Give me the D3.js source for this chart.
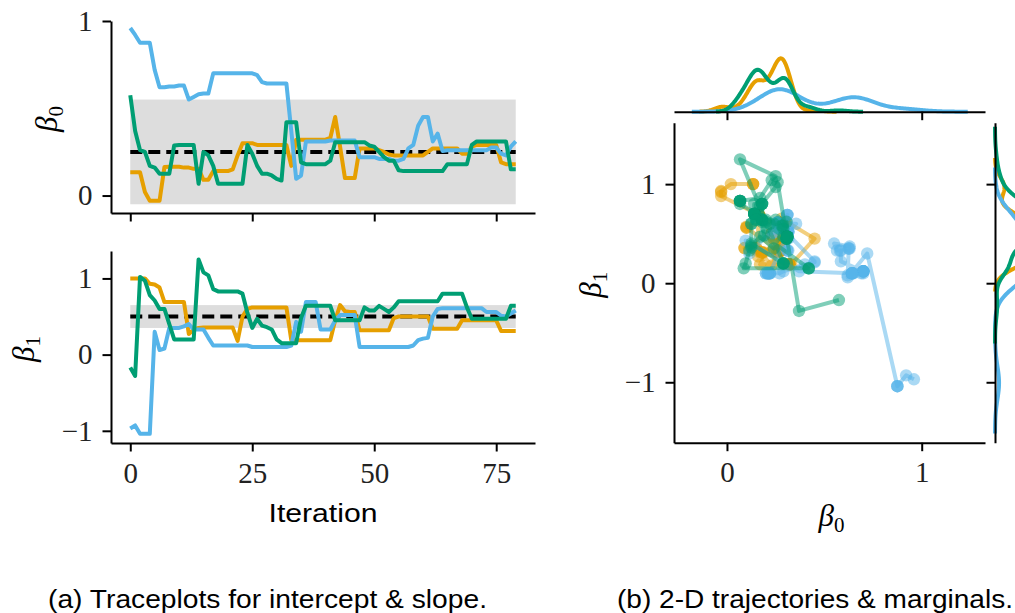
<!DOCTYPE html>
<html>
<head>
<meta charset="utf-8">
<script src="https://cdn.jsdelivr.net/npm/d3@7"></script>
<style>
  html, body { margin: 0; padding: 0; background: #fff; }
  svg { display: block; }
  .tick text { font-family: "Liberation Serif", "DejaVu Serif", serif; font-size: 29px; fill: #222; }
</style>
</head>
<body>
<svg id="fig" width="1015" height="613"></svg>
<script>
// ---- chain samples: intercept (beta0) and slope (beta1), 80 iterations each ----
const chainNames = ["chain 1", "chain 2", "chain 3"];
const chainColors = ["#E69F00", "#56B4E9", "#009E73"];

const beta0Chain1 = [0.134,0.134,0.134,0.02,-0.03,-0.03,-0.03,0.163,0.165,0.165,
  0.165,0.16,0.16,0.153,0.153,0.09,0.09,0.14,0.14,0.14,
  0.14,0.15,0.23,0.30,0.30,0.30,0.29,0.29,0.29,0.29,
  0.29,0.29,0.29,0.17,0.32,0.32,0.32,0.32,0.32,0.32,
  0.32,0.33,0.45,0.28,0.10,0.10,0.10,0.27,0.27,0.27,
  0.27,0.26,0.25,0.235,0.23,0.23,0.23,0.23,0.23,0.23,
  0.23,0.25,0.27,0.27,0.27,0.27,0.27,0.27,0.24,0.24,
  0.28,0.29,0.29,0.29,0.29,0.29,0.19,0.18,0.18,0.18];
const beta0Chain2 = [0.96,0.92,0.875,0.875,0.875,0.72,0.62,0.62,0.625,0.625,
  0.63,0.63,0.55,0.565,0.58,0.585,0.585,0.70,0.70,0.70,
  0.70,0.70,0.70,0.70,0.70,0.70,0.69,0.65,0.642,0.642,
  0.642,0.642,0.642,0.37,0.096,0.115,0.31,0.31,0.31,0.31,
  0.31,0.315,0.315,0.315,0.315,0.315,0.315,0.22,0.22,0.22,
  0.22,0.21,0.21,0.21,0.20,0.20,0.21,0.27,0.29,0.40,
  0.45,0.45,0.31,0.355,0.255,0.26,0.26,0.26,0.26,0.26,
  0.26,0.26,0.26,0.26,0.275,0.275,0.24,0.23,0.28,0.31];
const beta0Chain3 = [0.575,0.37,0.26,0.25,0.17,0.16,0.125,0.125,0.125,0.287,
  0.29,0.29,0.29,0.29,0.067,0.25,0.23,0.17,0.067,0.067,
  0.067,0.067,0.067,0.067,0.29,0.24,0.17,0.125,0.125,0.115,
  0.096,0.086,0.42,0.42,0.42,0.19,0.18,0.18,0.18,0.18,
  0.18,0.20,0.306,0.306,0.306,0.306,0.306,0.306,0.306,0.287,
  0.28,0.25,0.22,0.20,0.20,0.145,0.14,0.14,0.14,0.14,
  0.14,0.14,0.14,0.14,0.14,0.18,0.18,0.18,0.18,0.18,
  0.29,0.31,0.31,0.31,0.31,0.31,0.31,0.31,0.15,0.15];

const beta1Chain1 = [1.0,1.0,1.0,1.0,0.93,0.92,0.88,0.69,0.69,0.69,
  0.69,0.69,0.27,0.33,0.35,0.355,0.355,0.355,0.355,0.355,
  0.355,0.355,0.18,0.50,0.60,0.62,0.62,0.62,0.62,0.62,
  0.62,0.62,0.62,0.19,0.19,0.19,0.19,0.19,0.19,0.19,
  0.19,0.19,0.45,0.65,0.57,0.56,0.56,0.32,0.32,0.32,
  0.32,0.32,0.32,0.32,0.48,0.50,0.50,0.50,0.50,0.50,
  0.50,0.50,0.34,0.34,0.34,0.34,0.34,0.34,0.45,0.45,
  0.45,0.45,0.45,0.45,0.45,0.45,0.31,0.31,0.31,0.31];
const beta1Chain2 = [-0.97,-0.93,-1.04,-1.04,-1.04,0.30,0.06,0.08,0.35,0.35,
  0.35,0.37,0.40,0.33,0.33,0.33,0.22,0.12,0.12,0.12,
  0.12,0.12,0.12,0.12,0.12,0.10,0.10,0.10,0.10,0.10,
  0.10,0.10,0.10,0.12,0.43,0.30,0.69,0.69,0.69,0.33,
  0.33,0.33,0.45,0.52,0.52,0.52,0.52,0.10,0.10,0.10,
  0.10,0.10,0.10,0.10,0.10,0.10,0.10,0.10,0.12,0.19,
  0.21,0.22,0.50,0.60,0.61,0.61,0.61,0.61,0.61,0.61,
  0.61,0.61,0.61,0.56,0.56,0.56,0.51,0.50,0.54,0.58];
const beta1Chain3 = [-0.17,-0.28,1.02,0.97,0.78,0.71,0.60,0.60,0.40,0.20,
  0.20,0.20,0.20,0.20,1.25,1.08,1.04,0.86,0.83,0.83,
  0.83,0.83,0.83,0.80,0.55,0.35,0.47,0.38,0.36,0.33,
  0.20,0.15,0.15,0.15,0.15,0.48,0.64,0.64,0.64,0.64,
  0.64,0.64,0.45,0.45,0.45,0.45,0.45,0.45,0.62,0.58,
  0.58,0.64,0.60,0.56,0.62,0.70,0.70,0.70,0.70,0.70,
  0.70,0.70,0.70,0.70,0.80,0.80,0.80,0.80,0.80,0.62,
  0.47,0.47,0.47,0.47,0.47,0.47,0.47,0.47,0.64,0.64];

// true parameter values and the shaded reference bands
const trueBeta0 = 0.25, bandBeta0 = [-0.05, 0.55];
const trueBeta1 = 0.5,  bandBeta1 = [0.35, 0.65];

// tick values / labels
const iterTicks = [0, 25, 50, 75];
const beta0TraceTicks = [0, 1];
const beta1TraceTicks = [-1, 0, 1];
const jointXTicks = [0, 1];
const jointYTicks = [-1, 0, 1];
const tickLabel = v => (v < 0 ? "\u2212" : "") + Math.abs(v);

const captionA = "(a) Traceplots for intercept & slope.";
const captionB = "(b) 2-D trajectories & marginals.";

const beta0 = [beta0Chain1, beta0Chain2, beta0Chain3];
const beta1 = [beta1Chain1, beta1Chain2, beta1Chain3];
const nIter = beta0Chain1.length;
const iters = d3.range(nIter);

const svg = d3.select("#fig");
const serif = '"Liberation Serif", "DejaVu Serif", serif';
const sans = '"Liberation Sans", "DejaVu Sans", sans-serif';
const SPINE = 2, TICKLEN = 8.5, LW = 4;

function styleAxis(g) {
  g.select(".domain").attr("stroke", "#000").attr("stroke-width", SPINE);
  g.selectAll(".tick line").attr("stroke", "#000").attr("stroke-width", SPINE);
}

// ---------------- (a) trace plots ----------------
const xIter = d3.scaleLinear([-3.95, 82.95], [111, 535]);
const panels = [
  { data: beta0, y: d3.scaleLinear([-0.1, 1.0], [213, 21]), ticks: beta0TraceTicks,
    truth: trueBeta0, band: bandBeta0, sub: "0", showX: false, labelX: 57 },
  { data: beta1, y: d3.scaleLinear([-1.16, 1.36], [443, 251]), ticks: beta1TraceTicks,
    truth: trueBeta1, band: bandBeta1, sub: "1", showX: true, labelX: 34 }
];

panels.forEach(p => {
  const g = svg.append("g");
  const [y0, y1] = p.y.range();
  g.append("rect")
    .attr("x", xIter(0)).attr("width", xIter(nIter - 1) - xIter(0))
    .attr("y", p.y(p.band[1])).attr("height", p.y(p.band[0]) - p.y(p.band[1]))
    .attr("fill", "#dddddd");
  g.append("line")
    .attr("x1", xIter(0)).attr("x2", xIter(nIter - 1))
    .attr("y1", p.y(p.truth)).attr("y2", p.y(p.truth))
    .attr("stroke", "#000").attr("stroke-width", 4).attr("stroke-dasharray", "12,6");
  const line = d3.line().x((d, i) => xIter(i)).y(d => p.y(d));
  p.data.forEach((series, c) => {
    g.append("path").datum(series).attr("d", line)
      .attr("fill", "none").attr("stroke", chainColors[c])
      .attr("stroke-width", LW).attr("stroke-linejoin", "round");
  });
  const ax = g.append("g").attr("transform", `translate(${xIter.range()[0]},0)`)
    .call(d3.axisLeft(p.y).tickValues(p.ticks).tickFormat(tickLabel)
      .tickSize(TICKLEN).tickSizeOuter(0).tickPadding(10));
  styleAxis(ax);
  const bx = g.append("g").attr("transform", `translate(0,${y0})`)
    .call(d3.axisBottom(xIter).tickValues(iterTicks)
      .tickFormat(p.showX ? d3.format("d") : () => "")
      .tickSize(TICKLEN).tickSizeOuter(0).tickPadding(8));
  styleAxis(bx);
  bx.selectAll(".tick text").attr("dy", "0.8em");
  // rotated y label
  const t = g.append("text")
    .attr("transform", `translate(${p.labelX},${(y0 + y1) / 2 + 15}) rotate(-90)`)
    .attr("font-family", serif).attr("font-size", 31);
  t.append("tspan").attr("font-style", "italic").text("\u03B2");
  t.append("tspan").attr("font-size", 21).attr("dy", 6).text(p.sub);
});

svg.append("text").attr("x", xIter(39.5)).attr("y", 522)
  .attr("text-anchor", "middle").attr("font-family", sans).attr("font-size", 26)
  .attr("textLength", 109).attr("lengthAdjust", "spacingAndGlyphs")
  .text("Iteration");

// ---------------- (b) joint trajectories ----------------
const xJ = d3.scaleLinear([-0.272, 1.325], [674, 985]);
const yJ = d3.scaleLinear([-1.61, 1.62], [442.7, 122.7]);

const jg = svg.append("g");
beta0.forEach((b0, c) => {
  const pts = iters.map(i => [b0[i], beta1[c][i]]);
  jg.append("path").datum(pts)
    .attr("d", d3.line().x(d => xJ(d[0])).y(d => yJ(d[1])))
    .attr("fill", "none").attr("stroke", chainColors[c]).attr("stroke-opacity", 0.5)
    .attr("stroke-width", LW).attr("stroke-linejoin", "round");
  jg.selectAll(null).data(pts).join("circle")
    .attr("cx", d => xJ(d[0])).attr("cy", d => yJ(d[1])).attr("r", 6.2)
    .attr("fill", chainColors[c]).attr("fill-opacity", 0.5);
});
const jyAx = jg.append("g").attr("transform", `translate(${xJ.range()[0]},0)`)
  .call(d3.axisLeft(yJ).tickValues(jointYTicks).tickFormat(tickLabel)
    .tickSize(TICKLEN).tickSizeOuter(0).tickPadding(10));
styleAxis(jyAx);
const jxAx = jg.append("g").attr("transform", `translate(0,${yJ.range()[0]})`)
  .call(d3.axisBottom(xJ).tickValues(jointXTicks).tickFormat(tickLabel)
    .tickSize(TICKLEN).tickSizeOuter(0).tickPadding(8));
styleAxis(jxAx);
jxAx.selectAll(".tick text").attr("dy", "0.8em");

const xl = svg.append("text").attr("x", (xJ.range()[0] + xJ.range()[1]) / 2 - 11).attr("y", 526)
  .attr("font-family", serif).attr("font-size", 31);
xl.append("tspan").attr("font-style", "italic").text("\u03B2");
xl.append("tspan").attr("font-size", 21).attr("dy", 6).text("0");
const yl = svg.append("text")
  .attr("transform", `translate(601,${(yJ.range()[0] + yJ.range()[1]) / 2 + 15}) rotate(-90)`)
  .attr("font-family", serif).attr("font-size", 31);
yl.append("tspan").attr("font-style", "italic").text("\u03B2");
yl.append("tspan").attr("font-size", 21).attr("dy", 6).text("1");

// ---------------- marginal densities (Gaussian KDE, Scott bandwidth) ----------------
function kde(values, nGrid = 200) {
  const n = values.length;
  const sd = d3.deviation(values);
  const bw = sd * Math.pow(n, -1 / 5);
  const lo = d3.min(values) - 3 * bw, hi = d3.max(values) + 3 * bw;
  const norm = 1 / (n * bw * Math.sqrt(2 * Math.PI));
  return d3.range(nGrid).map(k => {
    const x = lo + (hi - lo) * k / (nGrid - 1);
    let s = 0;
    for (const v of values) { const z = (x - v) / bw; s += Math.exp(-0.5 * z * z); }
    return [x, s * norm];
  });
}
const MARG = 56;
const dens0 = beta0.map(v => kde(v));
const dens1 = beta1.map(v => kde(v));
const max0 = d3.max(dens0.flat(), d => d[1]);
const max1 = d3.max(dens1.flat(), d => d[1]);

const topBase = 111.7;
const yTop = d3.scaleLinear([0, max0 * 1.05], [topBase, topBase - MARG]);
dens0.forEach((d, c) => {
  svg.append("path").datum(d)
    .attr("d", d3.line().x(p => xJ(p[0])).y(p => yTop(p[1])))
    .attr("fill", "none").attr("stroke", chainColors[c]).attr("stroke-width", LW);
});
const topAx = svg.append("g").attr("transform", `translate(0,${topBase})`)
  .call(d3.axisBottom(xJ).tickValues(jointXTicks).tickFormat(() => "")
    .tickSize(TICKLEN).tickSizeOuter(0));
styleAxis(topAx);

const rightBase = 995;
const xRight = d3.scaleLinear([0, max1 * 1.05], [rightBase, rightBase + MARG]);
dens1.forEach((d, c) => {
  svg.append("path").datum(d)
    .attr("d", d3.line().x(p => xRight(p[1])).y(p => yJ(p[0])))
    .attr("fill", "none").attr("stroke", chainColors[c]).attr("stroke-width", LW);
});
const rAx = svg.append("g").attr("transform", `translate(${rightBase},0)`)
  .call(d3.axisLeft(yJ).tickValues(jointYTicks).tickFormat(() => "")
    .tickSize(TICKLEN).tickSizeOuter(0));
styleAxis(rAx);

// ---------------- captions ----------------
svg.append("text").attr("x", 48).attr("y", 608)
  .attr("font-family", sans).attr("font-size", 25)
  .attr("textLength", 439).attr("lengthAdjust", "spacingAndGlyphs").text(captionA);
svg.append("text").attr("x", 617).attr("y", 608)
  .attr("font-family", sans).attr("font-size", 25)
  .attr("textLength", 396).attr("lengthAdjust", "spacingAndGlyphs").text(captionB);
</script>
</body>
</html>
